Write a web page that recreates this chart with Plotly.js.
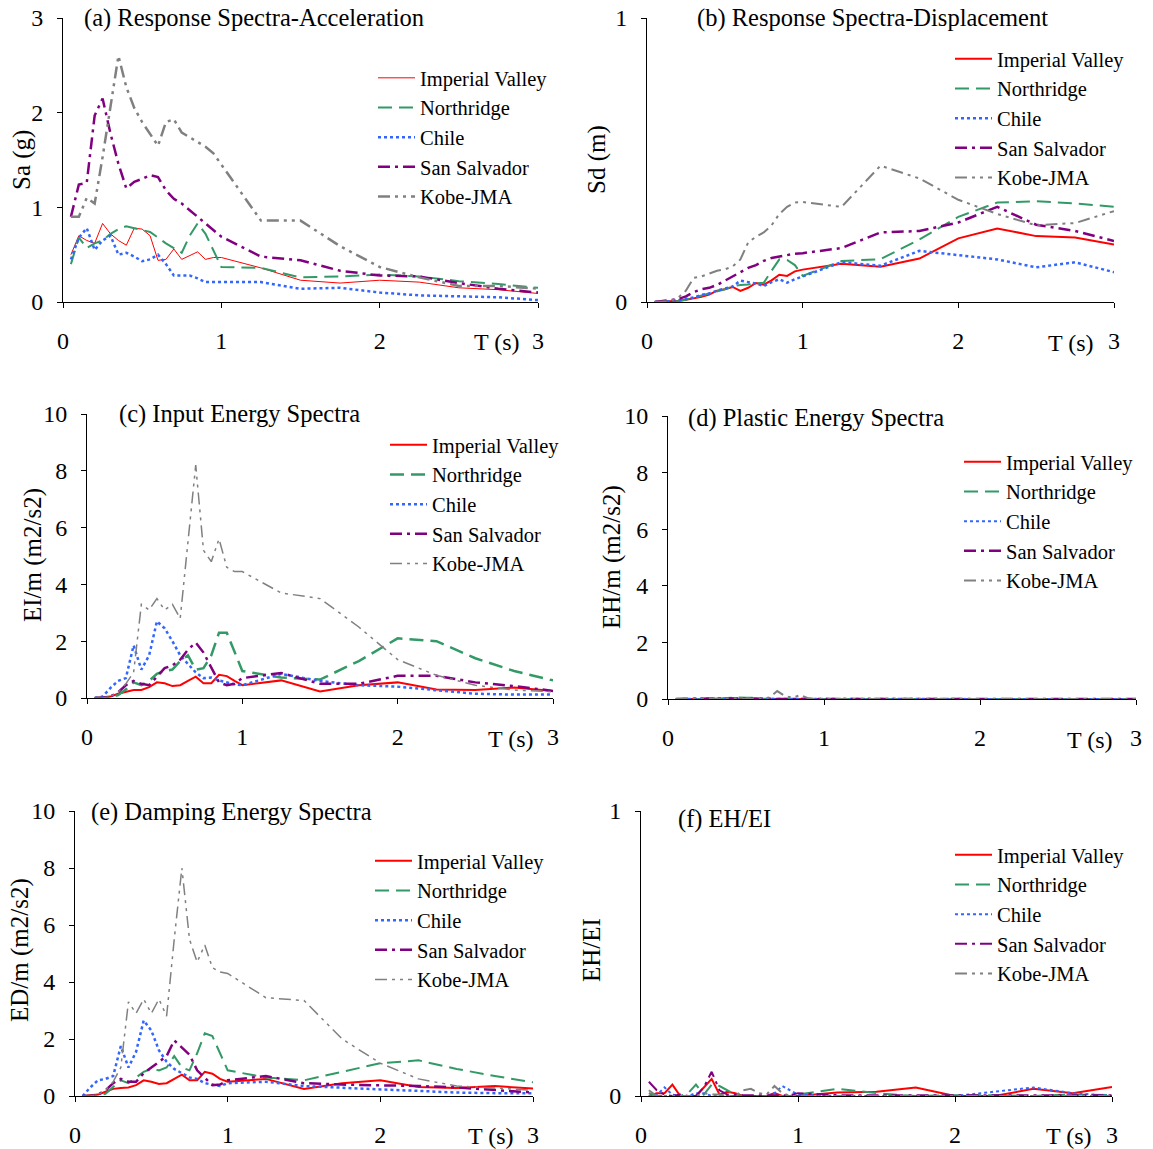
<!DOCTYPE html>
<html><head><meta charset="utf-8">
<script src="https://cdn.plot.ly/plotly-3.0.1.min.js"></script>
<style>html,body{margin:0;padding:0;background:#fff}#chart{width:1153px;height:1149px}</style>
</head><body><div id="chart"></div>
<script>
// ---------- DATA ----------
const T = [0.05,0.1,0.15,0.2,0.25,0.3,0.35,0.4,0.45,0.5,0.55,0.6,0.65,0.7,0.75,0.8,0.85,0.9,0.95,1.0,1.25,1.5,1.75,2.0,2.25,2.5,2.75,3.0];
const seriesNames = ["Imperial Valley","Northridge","Chile","San Salvador","Kobe-JMA"];
const xTickVals = [0,1,2,3];
const xTickText = ["0","1","2","3"];

// (a) Sa (g)
const saIV = [0.50,0.70,0.65,0.62,0.83,0.72,0.65,0.60,0.78,0.77,0.70,0.44,0.45,0.56,0.45,0.49,0.53,0.45,0.47,0.47,0.36,0.23,0.20,0.23,0.21,0.15,0.13,0.09];
const saNR = [0.40,0.68,0.57,0.62,0.65,0.72,0.77,0.80,0.78,0.76,0.74,0.68,0.62,0.57,0.52,0.70,0.83,0.72,0.55,0.37,0.36,0.26,0.27,0.29,0.27,0.22,0.19,0.15];
const saCH = [0.45,0.68,0.78,0.55,0.65,0.70,0.50,0.52,0.48,0.43,0.45,0.50,0.40,0.28,0.28,0.28,0.25,0.21,0.21,0.21,0.21,0.14,0.15,0.10,0.07,0.06,0.05,0.02];
const saSS = [0.90,1.24,1.26,1.97,2.15,1.78,1.46,1.20,1.27,1.30,1.34,1.32,1.18,1.09,1.04,0.97,0.90,0.83,0.76,0.69,0.48,0.44,0.33,0.28,0.27,0.20,0.14,0.10];
const saKB = [0.90,0.90,1.10,1.04,1.53,2.05,2.60,2.27,2.05,1.90,1.78,1.65,1.90,1.93,1.79,1.74,1.69,1.64,1.57,1.45,0.86,0.86,0.59,0.37,0.26,0.17,0.17,0.14];

// (b) Sd (m)
const sdIV = [0,0.001,0.002,0.004,0.008,0.013,0.018,0.026,0.040,0.045,0.053,0.039,0.050,0.067,0.061,0.076,0.096,0.092,0.108,0.114,0.135,0.124,0.153,0.224,0.259,0.232,0.227,0.202];
const sdNR = [0,0.001,0.002,0.003,0.008,0.015,0.022,0.030,0.038,0.045,0.055,0.060,0.062,0.066,0.068,0.110,0.150,0.148,0.130,0.092,0.144,0.151,0.220,0.300,0.350,0.355,0.347,0.335];
const sdCH = [0,0.001,0.003,0.006,0.010,0.016,0.025,0.030,0.040,0.048,0.055,0.075,0.070,0.065,0.056,0.070,0.080,0.068,0.080,0.090,0.140,0.128,0.180,0.165,0.150,0.122,0.140,0.105];
const sdSS = [0,0.003,0.005,0.010,0.020,0.035,0.045,0.050,0.060,0.075,0.090,0.105,0.120,0.130,0.145,0.155,0.160,0.165,0.170,0.172,0.190,0.245,0.250,0.280,0.335,0.272,0.250,0.215];
const sdKB = [0,0.001,0.003,0.015,0.040,0.085,0.090,0.100,0.110,0.115,0.125,0.150,0.210,0.230,0.245,0.270,0.310,0.335,0.350,0.352,0.335,0.480,0.435,0.360,0.310,0.270,0.278,0.320];

// (c) EI/m
const eiIV = [0,0.02,0.05,0.15,0.22,0.28,0.28,0.38,0.55,0.52,0.42,0.45,0.60,0.75,0.52,0.52,0.82,0.77,0.60,0.45,0.62,0.23,0.45,0.55,0.30,0.28,0.37,0.25];
const eiNR = [0,0,0.02,0.10,0.30,0.55,0.45,0.60,0.85,0.95,1.00,1.30,1.50,1.00,1.05,1.50,2.30,2.30,1.60,0.95,0.72,0.65,1.30,2.10,2.00,1.40,0.95,0.62];
const eiCH = [0,0.05,0.35,0.60,0.70,1.85,1.00,1.50,2.70,2.45,2.00,1.50,1.20,0.90,0.70,0.72,0.62,0.55,0.48,0.45,0.85,0.60,0.45,0.40,0.28,0.15,0.12,0.12];
const eiSS = [0,0,0.05,0.20,0.45,0.60,0.50,0.45,0.75,1.05,1.15,1.35,1.70,1.95,1.60,1.05,0.55,0.45,0.50,0.70,0.88,0.50,0.50,0.78,0.78,0.55,0.42,0.25];
const eiKB = [0,0,0.05,0.20,0.50,0.90,3.30,3.10,3.50,3.10,3.30,2.80,5.50,8.20,5.20,4.80,5.60,4.60,4.45,4.45,3.70,3.50,2.50,1.35,0.80,0.45,0.28,0.22];

// (d) EH/m
const ehIV = [0,0,0,0.01,0,0,0,0.01,0.02,0,0.01,0,0,0,0,0,0,0,0,0,0,0,0,0,0,0,0,0];
const ehNR = [0,0,0,0,0,0,0.03,0.05,0.05,0.04,0.04,0.01,0,0,0,0,0,0,0,0,0,0,0,0,0,0,0,0];
const ehCH = [0,0,0,0.01,0.02,0.03,0.01,0.02,0.03,0.02,0.01,0.01,0,0,0,0,0,0,0,0,0,0,0,0,0,0,0,0];
const ehSS = [0,0,0,0,0,0,0.01,0.02,0.03,0.02,0.01,0,0,0,0,0,0,0,0,0,0,0,0,0,0,0,0,0];
const ehKB = [0,0,0,0,0,0,0.02,0.03,0.02,0,0,0,0.05,0.28,0.10,0.05,0.14,0.02,0,0,0,0,0,0,0,0,0,0];

// (e) ED/m
const edIV = [0,0.02,0.05,0.15,0.25,0.28,0.30,0.38,0.55,0.50,0.42,0.45,0.60,0.75,0.55,0.55,0.85,0.78,0.60,0.50,0.60,0.25,0.45,0.55,0.32,0.28,0.35,0.26];
const edNR = [0,0,0.02,0.08,0.30,0.55,0.45,0.65,0.85,0.95,0.90,1.00,1.40,1.00,0.90,1.50,2.20,2.10,1.50,0.90,0.65,0.55,0.85,1.15,1.25,0.95,0.70,0.48];
const edCH = [0,0.30,0.55,0.60,0.70,1.75,1.00,1.55,2.65,2.30,1.60,1.20,0.95,0.80,0.65,0.60,0.45,0.40,0.35,0.45,0.50,0.35,0.28,0.23,0.18,0.12,0.10,0.10];
const edSS = [0,0,0.05,0.20,0.45,0.60,0.50,0.50,0.80,1.00,1.20,1.40,1.95,1.70,1.45,0.90,0.65,0.38,0.40,0.55,0.70,0.45,0.40,0.38,0.35,0.30,0.22,0.12];
const edKB = [0,0,0.05,0.20,0.50,1.00,3.30,2.90,3.40,2.90,3.40,2.80,5.50,8.00,5.50,4.70,5.30,4.50,4.35,4.30,3.45,3.35,2.00,1.15,0.60,0.35,0.28,0.20];

// (f) EH/EI
const rIV = [0,0.01,0.01,0.04,0,0,0,0.03,0.06,0.005,0.015,0.01,0,0,0,0,0.01,0,0,0,0.012,0.015,0.03,0,0,0.025,0.01,0.032];
const rNR = [0.01,0,0,0,0,0.01,0.04,0.005,0.04,0.035,0.02,0.005,0,0,0,0,0,0,0,0.005,0.025,0.01,0,0.003,0.003,0,0.005,0.003];
const rCH = [0,0.003,0.03,0.005,0,0,0.01,0.01,0,0,0,0,0,0,0,0,0.01,0.035,0.02,0.005,0,0,0,0,0.015,0.03,0.01,0];
const rSS = [0.05,0.02,0.005,0,0.005,0,0,0.03,0.085,0.02,0.005,0.003,0.003,0.003,0.003,0.003,0.003,0.003,0.003,0.01,0.003,0.003,0.003,0.003,0.003,0.003,0.003,0.003];
const rKB = [0.02,0,0,0,0,0,0,0.01,0.005,0.005,0,0,0.02,0.025,0.01,0.005,0.035,0.01,0,0,0,0,0,0,0,0,0,0];

const panelTitles = ["(a) Response Spectra-Acceleration","(b) Response Spectra-Displacement","(c) Input Energy Spectra","(d) Plastic Energy Spectra","(e) Damping Energy Spectra","(f) EH/EI"];
const yTitles = ["Sa (g)","Sd (m)","EI/m (m2/s2)","EH/m (m2/s2)","ED/m (m2/s2)","EH/EI"];
const yRanges = [[0,3],[0,1],[0,10],[0,10],[0,10],[0,1]];
const yDtick = [1,1,2,2,2,1];
const panelData = [
  [saIV,saNR,saCH,saSS,saKB],
  [sdIV,sdNR,sdCH,sdSS,sdKB],
  [eiIV,eiNR,eiCH,eiSS,eiKB],
  [ehIV,ehNR,ehCH,ehSS,ehKB],
  [edIV,edNR,edCH,edSS,edKB],
  [rIV,rNR,rCH,rSS,rKB]
];

// ---------- STYLE ----------
const W = 1153, H = 1149;
const FONT = "Liberation Serif, Times New Roman, serif";
const colors = ["#FF0000","#339966","#3366FF","#800080","#808080"];
const dashes = ["solid","14px,7px","3px,3px","12px,5px,3px,5px","12px,5px,3px,5px,3px,5px"];
// per panel: plot box [left, right, top(ymax), bottom(y0)] in px
const boxes = [
  [63,538,18,302],[647,1114,18,302],
  [87,553,414,698],[668,1136,416,699],
  [75,533,811,1096],[641,1112,811,1096]
];
const widths = [
  [1,2,2.5,2.5,2.5],[2,2,2.5,2.5,2],[2,2.5,2.5,2.5,1.5],
  [2,2,2,2.5,2],[2,2,2.5,2.5,1.5],[2,2,2,2,2]
];
const titlePos = [[82,18],[695,18],[117,414],[686,418],[89,812],[676,819]];
const yTitlePos = [[22,160],[597,160],[33,555],[612,557],[20,950],[592,950]];
const tsPos = [[497,342],[1071,343],[511,739],[1090,740],[491,1136],[1069,1136]];
const legendPos = [[373,58],[950,39],[385,425],[959,442],[370,841],[950,835]];

const px = x => x / W;
const py = y => 1 - y / H;

const traces = [];
const layout = {
  width: W, height: H,
  margin: {l:0,r:0,t:0,b:0},
  paper_bgcolor: "#fff", plot_bgcolor: "#fff",
  font: {family: FONT, size: 24, color: "#000"},
  showlegend: true,
  annotations: []
};

for (let p = 0; p < 6; p++) {
  const n = p + 1;
  const xa = n === 1 ? "x" : "x" + n;
  const ya = n === 1 ? "y" : "y" + n;
  const lg = n === 1 ? "legend" : "legend" + n;
  const b = boxes[p];
  layout["xaxis" + (n === 1 ? "" : n)] = {
    domain: [px(b[0]), px(b[1])], anchor: ya, range: [0,3],
    tickmode: "array", tickvals: xTickVals, ticktext: xTickText,
    showgrid: false, zeroline: false, showline: true, linecolor: "#000", linewidth: 1,
    ticks: "outside", ticklen: 5, tickcolor: "#000", ticklabelstandoff: 12,
    tickfont: {family: FONT, size: 24, color: "#000"}, fixedrange: true
  };
  layout["yaxis" + (n === 1 ? "" : n)] = {
    domain: [py(b[3]), py(b[2])], anchor: xa, range: yRanges[p], dtick: yDtick[p],
    showgrid: false, zeroline: false, showline: true, linecolor: "#000", linewidth: 1,
    ticks: "outside", ticklen: 5, tickcolor: "#000", ticklabelstandoff: 9,
    tickfont: {family: FONT, size: 24, color: "#000"}, fixedrange: true
  };
  layout[lg] = {
    x: px(legendPos[p][0]), y: py(legendPos[p][1]), xanchor: "left", yanchor: "top",
    bgcolor: "rgba(0,0,0,0)", borderwidth: 0,
    font: {family: FONT, size: 20.5, color: "#000"}, tracegroupgap: 0, itemwidth: 37
  };
  for (let s = 0; s < 5; s++) {
    traces.push({
      type: "scatter", mode: "lines", x: T, y: panelData[p][s], name: seriesNames[s],
      xaxis: xa, yaxis: ya, legend: lg, legendgroup: "g" + p + "_" + s,
      line: {color: colors[s], width: widths[p][s], dash: dashes[s]},
      hoverinfo: "skip"
    });
  }
  layout.annotations.push({
    text: panelTitles[p], xref: "paper", yref: "paper", x: px(titlePos[p][0]), y: py(titlePos[p][1]),
    xanchor: "left", yanchor: "middle", showarrow: false, font: {family: FONT, size: 24.5, color: "#000"}
  });
  layout.annotations.push({
    text: yTitles[p], xref: "paper", yref: "paper", x: px(yTitlePos[p][0]), y: py(yTitlePos[p][1]),
    xanchor: "center", yanchor: "middle", textangle: -90, showarrow: false,
    font: {family: FONT, size: 25, color: "#000"}
  });
  layout.annotations.push({
    text: "T (s)", xref: "paper", yref: "paper", x: px(tsPos[p][0]), y: py(tsPos[p][1]),
    xanchor: "center", yanchor: "middle", showarrow: false, font: {family: FONT, size: 24, color: "#000"}
  });
}

Plotly.newPlot("chart", traces, layout, {staticPlot: true, displayModeBar: false});
</script>
</body></html>
